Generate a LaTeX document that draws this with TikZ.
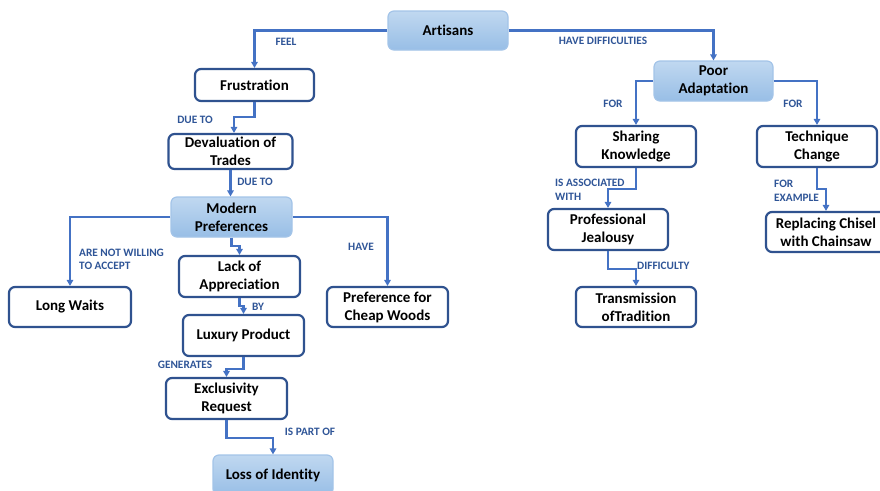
\documentclass[tikz,border=0pt]{standalone}
\usepackage{fontspec}
\setmainfont{Carlito}[Ligatures=NoCommon]
\usetikzlibrary{arrows.meta}
\definecolor{conn}{HTML}{4472C4}
\definecolor{wborder}{HTML}{2F528F}
\definecolor{lbl}{HTML}{2F5597}
\definecolor{ftop}{HTML}{C0D8F0}
\definecolor{fbot}{HTML}{98BEE6}
\definecolor{fborder}{HTML}{A3C4E8}
\tikzset{
  box/.style={rectangle, rounded corners=6pt, align=center, inner sep=0pt,
    font=\fontsize{15}{18}\selectfont\bfseries, text=black},
  wbox/.style={box, draw=wborder, line width=2.2pt, fill=white},
  fbox/.style={box, draw=fborder, line width=1.2pt, top color=ftop, bottom color=fbot},
  link/.style={draw=conn, line width=2.1pt, -{Triangle[length=6pt,width=6.5pt]}},
  lab/.style={font=\fontsize{11.3}{13.5}\selectfont\bfseries, text=lbl, inner sep=0pt},
  labl/.style={lab, anchor=west, align=left},
}
\begin{document}
\begin{tikzpicture}[x=1pt,y=-1pt]
\useasboundingbox (0,0) rectangle (880,490);
% nodes
\node[fbox, minimum width=120pt, minimum height=39pt] (art) at (448,30.5) {Artisans};
\node[wbox, minimum width=119pt, minimum height=32pt] (frus) at (254.5,85) {Frustration};
\node[wbox, minimum width=124pt, minimum height=35pt] (dev) at (230.5,151.5) {Devaluation of\\Trades};
\node[fbox, minimum width=121pt, minimum height=40pt] (mod) at (231.5,217) {Modern\\Preferences};
\node[wbox, minimum width=122pt, minimum height=40pt] (long) at (70,307) {Long Waits};
\node[wbox, minimum width=121pt, minimum height=41pt] (lack) at (239.5,276.5) {Lack of\\Appreciation};
\node[wbox, minimum width=121pt, minimum height=40pt] (pref) at (387.5,307) {Preference for\\Cheap Woods};
\node[wbox, minimum width=121pt, minimum height=41pt] (lux) at (243.5,335.5) {Luxury Product};
\node[wbox, minimum width=121pt, minimum height=41pt] (excl) at (226.5,398.5) {Exclusivity\\Request};
\node[fbox, minimum width=120pt, minimum height=40pt] (loss) at (273,475) {Loss of Identity};
\node[fbox, minimum width=119pt, minimum height=40pt] (poor) at (713.5,81) {Poor\\Adaptation};
\node[wbox, minimum width=120pt, minimum height=41pt] (share) at (636,146.5) {Sharing\\Knowledge};
\node[wbox, minimum width=120pt, minimum height=41pt] (tech) at (817,146.5) {Technique\\Change};
\node[wbox, minimum width=120pt, minimum height=41pt] (prof) at (608,229.5) {Professional\\Jealousy};
\node[wbox, minimum width=120pt, minimum height=40pt] (repl) at (826,232) {Replacing Chisel\\with Chainsaw};
\node[wbox, minimum width=120pt, minimum height=40pt] (trans) at (636,307) {Transmission\\ofTradition};
% connectors
\draw[link] (art.west) -| (frus.north);
\draw[link] (art.east) -| (poor.north);
\draw[link] (poor.west) -| (share.north);
\draw[link] (poor.east) -| (tech.north);
\draw[link] (frus.south) -- ++(0,15) -| ([xshift=3.5pt]dev.north);
\draw[link] (dev.south) -- (dev.south |- mod.north);
\draw[link] (mod.west) -| (long.north);
\draw[link] (mod.south) -- ++(0,8) -| (lack.north);
\draw[link] (mod.east) -| (pref.north);
\draw[link] (lack.south) -- ++(0,8) -| (lux.north);
\draw[link] (lux.south) -- ++(0,12) -| (excl.north);
\draw[link] (excl.south) -- ++(0,18) -| (loss.north);
\draw[link] (share.south) -- ++(0,21) -| (prof.north);
\draw[link] (prof.south) -- ++(0,18) -| (trans.north);
\draw[link] (tech.south) -- ++(0,21) -| (repl.north);
% labels
\node[lab] (l1) at (286,42) {FEEL};
\node[lab] (l2) at (603,41) {HAVE DIFFICULTIES};
\node[lab] (l3) at (613,104) {FOR};
\node[lab] (l4) at (793,104) {FOR};
\node[lab] (l5) at (195,120) {DUE TO};
\node[lab] (l6) at (255,182) {DUE TO};
\node[labl] (l7) at (79,259.5) {ARE NOT WILLING\\TO ACCEPT};
\node[lab] (l8) at (361,247) {HAVE};
\node[lab] (l9) at (258,307) {BY};
\node[lab] (l10) at (185,365) {GENERATES};
\node[lab] (l11) at (310,432) {IS PART OF};
\node[labl] (l12) at (555,190) {IS ASSOCIATED\\WITH};
\node[labl] (l13) at (637,266) {DIFFICULTY};
\node[labl] (l14) at (774,191) {FOR\\EXAMPLE};
\end{tikzpicture}
\end{document}
